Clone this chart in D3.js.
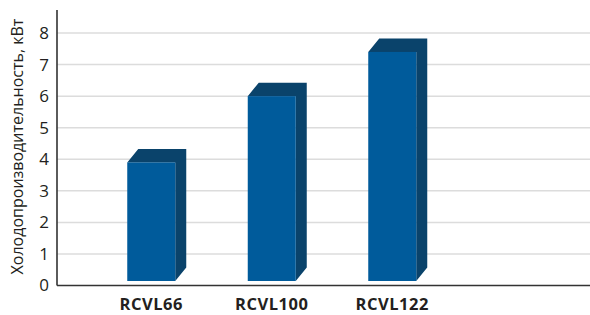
<!DOCTYPE html>
<html><head><meta charset="utf-8">
<script src="https://cdn.jsdelivr.net/npm/d3@7/dist/d3.min.js"></script>
<style>body{margin:0;background:#fff;} svg{display:block;}</style>
</head><body>
<svg id="c" width="590" height="315"></svg>
<script>
const categories = ["RCVL66", "RCVL100", "RCVL122"];
const values = [3.9, 6.0, 7.4];
const yTicks = [0, 1, 2, 3, 4, 5, 6, 7, 8];
const yTitle = "Холодопроизводительность, кВт";

const svg = d3.select("#c");
const x0 = 57, xEnd = 590, yTop = 10;
const y = d3.scaleLinear().domain([0, 8]).range([285.5, 33]);
const x = d3.scaleBand().domain(categories).range([91, 452.5]).paddingInner(0).paddingOuter(0);
const barW = 48, dx = 11, dy = 13.5, lift = 4.5;
const front = "#005b9b", dark = "#0a436b";

svg.append("g").selectAll("line").data(yTicks.filter(d => d > 0)).join("line")
  .attr("x1", x0).attr("x2", xEnd).attr("y1", d => y(d)).attr("y2", d => y(d))
  .attr("stroke", "#dcdcdc").attr("stroke-width", 1.5);

const yAxis = d3.axisLeft(y).tickValues(yTicks).tickSize(0).tickPadding(8).tickFormat(d3.format("d"));
const ga = svg.append("g").attr("transform", `translate(${x0},0)`).call(yAxis);
ga.select(".domain").remove();
ga.selectAll("text").attr("font-family", "'Open Sans', sans-serif").attr("font-size", 17).attr("fill", "#231f20");

const bars = svg.append("g").selectAll("g").data(categories).join("g");
bars.each(function(c, i) {
  const g = d3.select(this);
  const xl = x(c) + (x.bandwidth() - barW) / 2, xr = xl + barW;
  const yt = y(values[i]), yb = y(0) - lift;
  g.append("path").attr("fill", dark)
    .attr("d", `M${xl},${yt}L${xl+dx},${yt-dy}L${xr+dx},${yt-dy}L${xr+dx},${yb-dy}L${xr},${yb}L${xr},${yt}Z`);
  g.append("rect").attr("x", xl).attr("y", yt).attr("width", barW).attr("height", yb - yt).attr("fill", front);
});

svg.append("line").attr("x1", x0).attr("x2", x0).attr("y1", yTop).attr("y2", y(0)).attr("stroke", "#333").attr("stroke-width", 1.6);
svg.append("line").attr("x1", x0).attr("x2", xEnd).attr("y1", y(0)).attr("y2", y(0)).attr("stroke", "#333").attr("stroke-width", 1.6);

svg.append("g").selectAll("text").data(categories).join("text")
  .attr("x", d => x(d) + x.bandwidth() / 2).attr("y", 310)
  .attr("text-anchor", "middle").attr("font-family", "'Open Sans', sans-serif")
  .attr("font-weight", "bold").attr("font-size", 16.5).attr("letter-spacing", 0.5).attr("fill", "#231f20")
  .text(d => d);

svg.append("text").attr("transform", "translate(23,146.5) rotate(-90)")
  .attr("text-anchor", "middle").attr("font-family", "'Open Sans', sans-serif")
  .attr("font-size", 16).attr("fill", "#231f20").text(yTitle);
</script>
</body></html>
